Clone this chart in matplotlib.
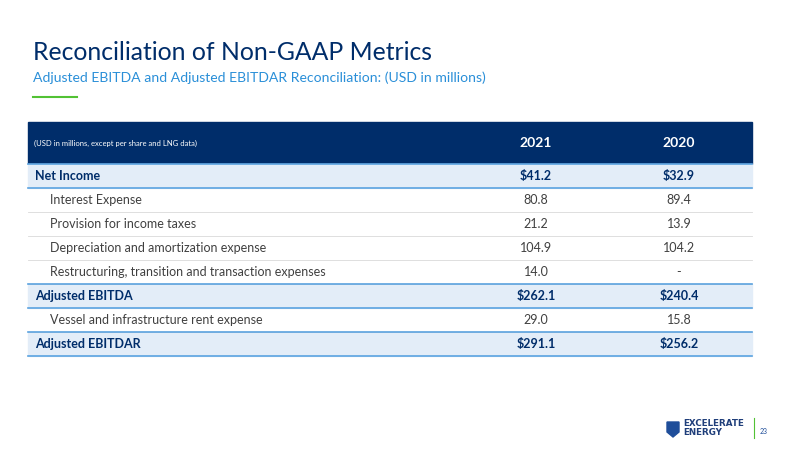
import matplotlib
matplotlib.use("Agg")
import matplotlib.pyplot as plt
from matplotlib.patches import Rectangle, Polygon

plt.rcParams['font.family'] = ['Lato', 'DejaVu Sans']

labels = ["Net Income", "Interest Expense", "Provision for income taxes",
          "Depreciation and amortization expense",
          "Restructuring, transition and transaction expenses",
          "Adjusted EBITDA", "Vessel and infrastructure rent expense", "Adjusted EBITDAR"]
v2021 = ["$41.2", "80.8", "21.2", "104.9", "14.0", "$262.1", "29.0", "$291.1"]
v2020 = ["$32.9", "89.4", "13.9", "104.2", "-", "$240.4", "15.8", "$256.2"]
bold = [True, False, False, False, False, True, False, True]
years = ["2021", "2020"]

fig = plt.figure(figsize=(8, 4.5), dpi=100)
ax = fig.add_axes([0, 0, 1, 1])
ax.set_xlim(0, 800); ax.set_ylim(450, 0); ax.axis('off')

navy = "#002D6A"
ax.text(33, 52, "Reconciliation of Non-GAAP Metrics", fontsize=17.8, color=navy, va='center')
ax.text(33, 78, "Adjusted EBITDA and Adjusted EBITDAR Reconciliation: (USD in millions)",
        fontsize=10.1, color="#2A8FD8", va='center')
ax.plot([33, 77], [97, 97], color="#52C234", lw=1.5)

L, R = 28, 752
c1, c2 = 536, 679
ax.add_patch(Rectangle((L, 122), R - L, 42, color=navy, zorder=1))
ax.text(34, 143, "(USD in millions, except per share and LNG data)", fontsize=5.5, color='white', va='center')
ax.text(c1, 143, years[0], fontsize=10, color='white', weight='bold', ha='center', va='center')
ax.text(c2, 143, years[1], fontsize=10, color='white', weight='bold', ha='center', va='center')

top, h = 164, 24
for i, lab in enumerate(labels):
    y0 = top + i * h
    yc = y0 + h / 2
    if bold[i]:
        ax.add_patch(Rectangle((L, y0), R - L, h, color="#E3EDF8", zorder=1))
        ax.plot([L, R], [y0, y0], color="#5BA3E0", lw=1.2, zorder=2)
        ax.plot([L, R], [y0 + h, y0 + h], color="#5BA3E0", lw=1.2, zorder=2)
        ax.text(35, yc, lab, fontsize=9, weight='bold', color=navy, va='center')
    else:
        ax.plot([L, R], [y0 + h, y0 + h], color="#D9D9D9", lw=0.6, zorder=2)
        ax.text(50, yc, lab, fontsize=9, color="#404040", va='center')
    kw = dict(fontsize=9, ha='center', va='center',
              weight='bold' if bold[i] else 'normal',
              color=navy if bold[i] else "#404040")
    ax.text(c1, yc, v2021[i], **kw)
    ax.text(c2, yc, v2020[i], **kw)

# logo
ax.add_patch(Polygon([[667, 422], [679, 422], [679, 432], [673, 437], [667, 432]], color="#1F4E9A"))
ax.text(683, 424, "EXCELERATE", fontsize=6.3, weight='bold', color="#1F3E7A", va='center', family='DejaVu Sans')
ax.text(683, 432.5, "ENERGY", fontsize=6.3, weight='bold', color="#1F3E7A", va='center', family='DejaVu Sans')
ax.plot([754, 754], [418, 438], color="#52C234", lw=0.8)
ax.text(760, 431, "23", fontsize=5, color="#1F4E9A", va='center')

fig.savefig("out.png", dpi=100)
